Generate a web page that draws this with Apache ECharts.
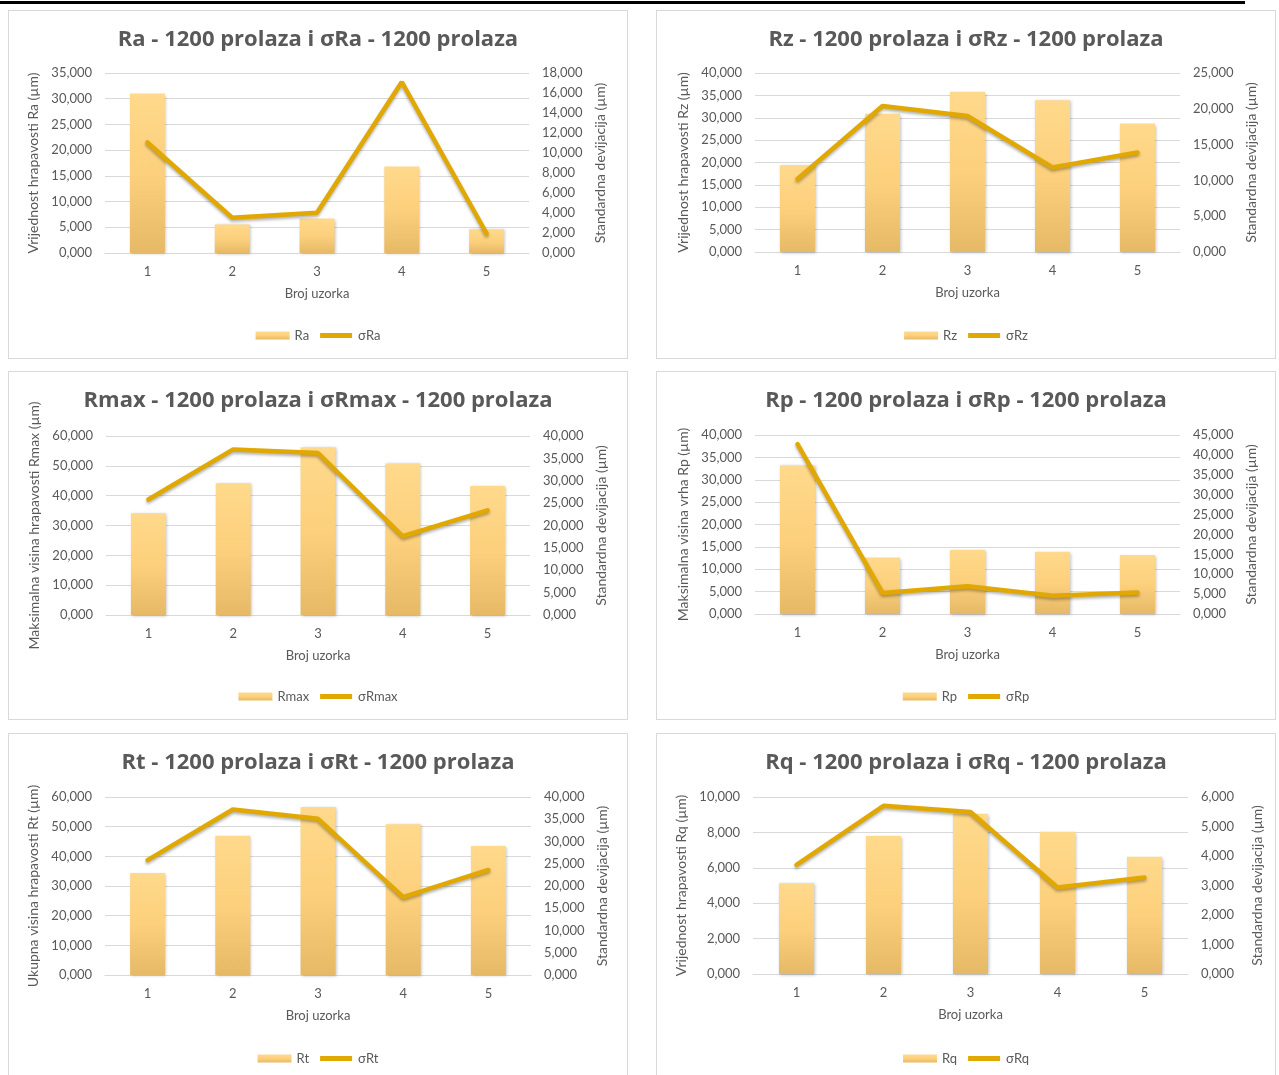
<!DOCTYPE html>
<html>
<head>
<meta charset="utf-8">
<script src="https://cdn.jsdelivr.net/npm/echarts@6/dist/echarts.min.js"></script>
<style>
  body { margin: 0; width: 1279px; height: 1075px; overflow: hidden; background: #fff; position: relative; }
  .rule { position: absolute; left: 0; top: 1px; width: 1245px; height: 3px; background: #000; }
  .panel { position: absolute; width: 620px; height: 349px; border: 1px solid #d9d9d9; box-sizing: border-box; }
</style>
</head>
<body>
<div class="rule"></div>
<div id="p1" class="panel" style="left:8px;top:10px"></div>
<div id="p2" class="panel" style="left:656px;top:10px"></div>
<div id="p3" class="panel" style="left:8px;top:371px"></div>
<div id="p4" class="panel" style="left:656px;top:371px"></div>
<div id="p5" class="panel" style="left:8px;top:733px"></div>
<div id="p6" class="panel" style="left:656px;top:733px"></div>
<script>
const samples = ['1', '2', '3', '4', '5']

const ra = [31.0, 5.55, 6.7, 16.8, 4.6]
const sigmaRa = [11.05, 3.52, 4.02, 17.1, 1.95]
const rz = [19.4, 30.9, 35.8, 33.9, 28.7]
const sigmaRz = [10.2, 20.4, 19.0, 11.8, 13.9]
const rmax = [34.1, 44.2, 56.2, 50.8, 43.2]
const sigmaRmax = [25.8, 37.0, 36.2, 17.6, 23.4]
const rp = [33.2, 12.6, 14.3, 13.9, 13.2]
const sigmaRp = [42.7, 5.3, 7.0, 4.6, 5.4]
const rt = [34.4, 46.9, 56.6, 50.8, 43.5]
const sigmaRt = [25.8, 37.2, 35.1, 17.5, 23.6]
const rq = [5.13, 7.80, 9.06, 8.04, 6.62]
const sigmaRq = [3.70, 5.70, 5.49, 2.93, 3.27]

const FONT = 'Lato, "Noto Sans", sans-serif'
const GREY = '#595959'
const GOLD = '#E0A800'
// thick line icon for the legend, padded to the 34x8 legend box
const LINE_ICON = 'path://M0,0 M34,8 M1,1.5 L33,1.5 L33,6.5 L1,6.5 Z'

const fmt = (v) => v.toFixed(3).replace('.', ',')

function makeChart(el, cfg) {
  const chart = echarts.init(document.getElementById(el))
  const axisBase = {
    type: 'value',
    nameLocation: 'middle',
    nameRotate: 90,
    nameTextStyle: { color: GREY, fontSize: 14, fontFamily: FONT },
    axisLine: { show: false },
    axisTick: { show: false },
    axisLabel: { color: GREY, fontSize: 13, fontFamily: FONT, margin: 13, formatter: fmt },
  }
  chart.setOption({
    animation: false,
    textStyle: { fontFamily: FONT },
    title: {
      text: cfg.title,
      left: 'center',
      top: 13,
      textStyle: { color: GREY, fontSize: 22, fontWeight: 'bold', fontFamily: '"Open Sans", Lato, sans-serif' },
    },
    legend: {
      top: 313,
      left: 'center',
      itemWidth: 34,
      itemHeight: 8,
      itemGap: 10,
      textStyle: { color: GREY, fontSize: 13, fontFamily: FONT },
      data: [
        { name: cfg.barName, icon: 'rect' },
        { name: cfg.lineName, icon: LINE_ICON, itemStyle: { color: GOLD } },
      ],
    },
    grid: { left: cfg.grid[0], right: cfg.grid[1], top: cfg.grid[2], height: cfg.grid[3], outerBoundsMode: 'none' },
    xAxis: {
      type: 'category',
      data: samples,
      name: 'Broj uzorka',
      nameLocation: 'middle',
      nameGap: 34,
      nameTextStyle: { color: GREY, fontSize: 13, fontFamily: FONT },
      axisLine: { lineStyle: { color: '#d9d9d9' } },
      axisTick: { show: false },
      axisLabel: { color: GREY, fontSize: 13, fontFamily: FONT, margin: 12 },
    },
    yAxis: [
      Object.assign({}, axisBase, {
        name: cfg.leftName,
        nameGap: 62,
        min: 0,
        max: cfg.left[0],
        interval: cfg.left[1],
        splitLine: { lineStyle: { color: '#d9d9d9' } },
      }),
      Object.assign({}, axisBase, {
        name: 'Standardna devijacija (µm)',
        nameGap: 62,
        position: 'right',
        min: 0,
        max: cfg.right[0],
        interval: cfg.right[1],
        splitLine: { show: false },
      }),
    ],
    series: [
      {
        name: cfg.barName,
        type: 'bar',
        data: cfg.bars,
        barWidth: 35,
        itemStyle: {
          color: new echarts.graphic.LinearGradient(0, 0, 0, 1, [
            { offset: 0, color: '#FFD98C' },
            { offset: 0.5, color: '#FCD07C' },
            { offset: 1, color: '#E5B966' },
          ]),
          shadowColor: 'rgba(0,0,0,0.25)',
          shadowBlur: 3,
          shadowOffsetX: 1,
          shadowOffsetY: 1,
        },
      },
      {
        name: cfg.lineName,
        type: 'line',
        yAxisIndex: 1,
        data: cfg.line,
        symbol: 'none',
        lineStyle: {
          color: GOLD,
          width: 4.5,
          cap: 'round',
          shadowColor: 'rgba(0,0,0,0.3)',
          shadowBlur: 3,
          shadowOffsetY: 2,
        },
        itemStyle: { color: GOLD },
      },
    ],
  })
  return chart
}

makeChart('p1', {
  title: 'Ra - 1200 prolaza i σRa - 1200 prolaza', barName: 'Ra', lineName: 'σRa',
  leftName: 'Vrijednost hrapavosti Ra (µm)', bars: ra, line: sigmaRa,
  left: [35, 5], right: [18, 2], grid: [96, 98, 62, 180],
})
makeChart('p2', {
  title: 'Rz - 1200 prolaza i σRz - 1200 prolaza', barName: 'Rz', lineName: 'σRz',
  leftName: 'Vrijednost hrapavosti Rz (µm)', bars: rz, line: sigmaRz,
  left: [40, 5], right: [25, 5], grid: [98, 95, 62, 179],
})
makeChart('p3', {
  title: 'Rmax - 1200 prolaza i σRmax - 1200 prolaza', barName: 'Rmax', lineName: 'σRmax',
  leftName: 'Maksimalna visina hrapavosti Rmax (µm)', bars: rmax, line: sigmaRmax,
  left: [60, 10], right: [40, 5], grid: [97, 97, 64, 179],
})
makeChart('p4', {
  title: 'Rp - 1200 prolaza i σRp - 1200 prolaza', barName: 'Rp', lineName: 'σRp',
  leftName: 'Maksimalna visina vrha Rp (µm)', bars: rp, line: sigmaRp,
  left: [40, 5], right: [45, 5], grid: [98, 95, 63, 179],
})
makeChart('p5', {
  title: 'Rt - 1200 prolaza i σRt - 1200 prolaza', barName: 'Rt', lineName: 'σRt',
  leftName: 'Ukupna visina hrapavosti Rt (µm)', bars: rt, line: sigmaRt,
  left: [60, 10], right: [40, 5], grid: [96, 96, 63, 178],
})
makeChart('p6', {
  title: 'Rq - 1200 prolaza i σRq - 1200 prolaza', barName: 'Rq', lineName: 'σRq',
  leftName: 'Vrijednost hrapavosti Rq (µm)', bars: rq, line: sigmaRq,
  left: [10, 2], right: [6, 1], grid: [96, 87, 63, 177],
})
</script>
</body>
</html>
